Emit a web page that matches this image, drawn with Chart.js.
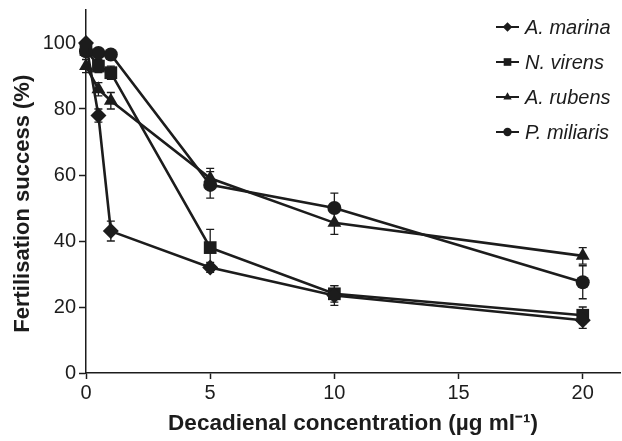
<!DOCTYPE html>
<html><head><meta charset="utf-8">
<script src="https://cdn.jsdelivr.net/npm/chart.js@4/dist/chart.umd.min.js"></script>
<style>html,body{margin:0;padding:0;background:#fff;} #wrap{width:622px;height:441px;position:relative;}</style>
</head><body><div id="wrap"><canvas id="c" width="622" height="441"></canvas></div>
<script>
// ---- data ----
const concentrations = [0, 0.5, 1, 5, 10, 20];
const seriesNames = ['A. marina', 'N. virens', 'A. rubens', 'P. miliaris'];
const aMarina      = [100, 78, 43, 32, 23.5, 16];
const nVirens      = [98, 93, 91, 38, 24, 17.5];
const aRubens      = [93, 86, 82.5, 59, 45.5, 35.5];
const pMiliaris    = [97.5, 97, 96.5, 57, 50, 27.5];
const aMarinaErr   = [1, 2, 3, 1.5, 3, 2.5];
const nVirensErr   = [2, 2, 2, 5.5, 2.5, 2.5];
const aRubensErr   = [2, 2, 2.5, 3, 3.5, 2.5];
const pMiliarisErr = [1, 1, 1, 4, 4.5, 5];
const xTickValues = [0, 5, 10, 15, 20];
const yTickValues = [0, 20, 40, 60, 80, 100];

const INK = '#1c1c1c';
const FAMILY = '"Liberation Sans", Arial, Helvetica, sans-serif';
const styles = [
  {pointStyle: 'rectRot', radius: 8},
  {pointStyle: 'rect', radius: 9},
  {pointStyle: 'triangle', radius: 8},
  {pointStyle: 'circle', radius: 7}
];
const values = [aMarina, nVirens, aRubens, pMiliaris];
const errors = [aMarinaErr, nVirensErr, aRubensErr, pMiliarisErr];

const datasets = values.map((vals, i) => ({
  label: seriesNames[i],
  data: concentrations.map((x, j) => ({x: x, y: vals[j]})),
  borderColor: INK,
  backgroundColor: INK,
  pointBackgroundColor: INK,
  pointBorderColor: INK,
  borderWidth: 2.6,
  pointBorderWidth: 0,
  pointStyle: styles[i].pointStyle,
  pointRadius: styles[i].radius,
  tension: 0,
  fill: false,
  clip: false
}));

const errorBars = {
  id: 'errorBars',
  beforeDatasetsDraw(chart) {
    const ctx = chart.ctx, xs = chart.scales.x, ys = chart.scales.y;
    ctx.save();
    ctx.strokeStyle = INK;
    ctx.lineWidth = 1.3;
    values.forEach((vals, i) => {
      vals.forEach((v, j) => {
        const e = errors[i][j];
        const px = xs.getPixelForValue(concentrations[j]);
        const t = ys.getPixelForValue(v + e), b = ys.getPixelForValue(v - e);
        ctx.beginPath();
        ctx.moveTo(px, t); ctx.lineTo(px, b);
        ctx.moveTo(px - 4, t); ctx.lineTo(px + 4, t);
        ctx.moveTo(px - 4, b); ctx.lineTo(px + 4, b);
        ctx.stroke();
      });
    });
    ctx.restore();
  }
};

const legendPlugin = {
  id: 'customLegend',
  afterDraw(chart) {
    const ctx = chart.ctx;
    ctx.save();
    seriesNames.forEach((name, i) => {
      const y = 27 + i * 35;
      ctx.strokeStyle = INK; ctx.fillStyle = INK; ctx.lineWidth = 2;
      ctx.beginPath(); ctx.moveTo(496, y); ctx.lineTo(519, y); ctx.stroke();
      Chart.helpers.drawPoint(ctx, {pointStyle: styles[i].pointStyle, radius: styles[i].radius * 0.6, rotation: 0, borderWidth: 0}, 507.5, y);
      ctx.fillStyle = INK;
      ctx.font = 'italic 20px ' + FAMILY;
      ctx.textBaseline = 'middle';
      ctx.textAlign = 'left';
      ctx.fillText(name, 525, y + 1);
    });
    ctx.restore();
  }
};

new Chart(document.getElementById('c'), {
  type: 'line',
  data: {datasets},
  plugins: [errorBars, legendPlugin],
  options: {
    responsive: false,
    animation: false,
    devicePixelRatio: 1,
    layout: {autoPadding: false, padding: {top: 10, right: 2, left: 0, bottom: 0}},
    plugins: {legend: {display: false}, tooltip: {enabled: false}},
    scales: {
      x: {
        type: 'linear', min: 0, max: 21.5,
        afterBuildTicks: s => { s.ticks = xTickValues.map(v => ({value: v})); },
        ticks: {font: {family: FAMILY, size: 20}, color: INK, padding: 2, maxRotation: 0},
        grid: {display: true, drawOnChartArea: false, drawTicks: true, tickLength: 6, tickWidth: 1.5, tickColor: INK},
        border: {display: true, color: INK, width: 1.5},
        title: {display: true, text: 'Decadienal concentration (µg ml⁻¹)', color: INK,
                font: {family: FAMILY, size: 22.5, weight: 'bold'}, padding: {top: 0, bottom: 4}},
        afterFit: s => { s.height = 68; s.paddingLeft = 0; s.paddingRight = 0; }
      },
      y: {
        type: 'linear', min: 0, max: 110,
        afterBuildTicks: s => { s.ticks = yTickValues.map(v => ({value: v})); },
        ticks: {font: {family: FAMILY, size: 20}, color: INK, padding: 3},
        grid: {display: true, drawOnChartArea: false, drawTicks: true, tickLength: 7, tickWidth: 1.5, tickColor: INK},
        border: {display: true, color: INK, width: 1.5},
        title: {display: true, text: 'Fertilisation success (%)    ', color: INK,
                font: {family: FAMILY, size: 22, weight: 'bold'}, padding: {top: 10, bottom: 0}},
        afterFit: s => { s.width = 86; s.paddingTop = 0; s.paddingBottom = 0; }
      }
    }
  }
});
</script></body></html>
